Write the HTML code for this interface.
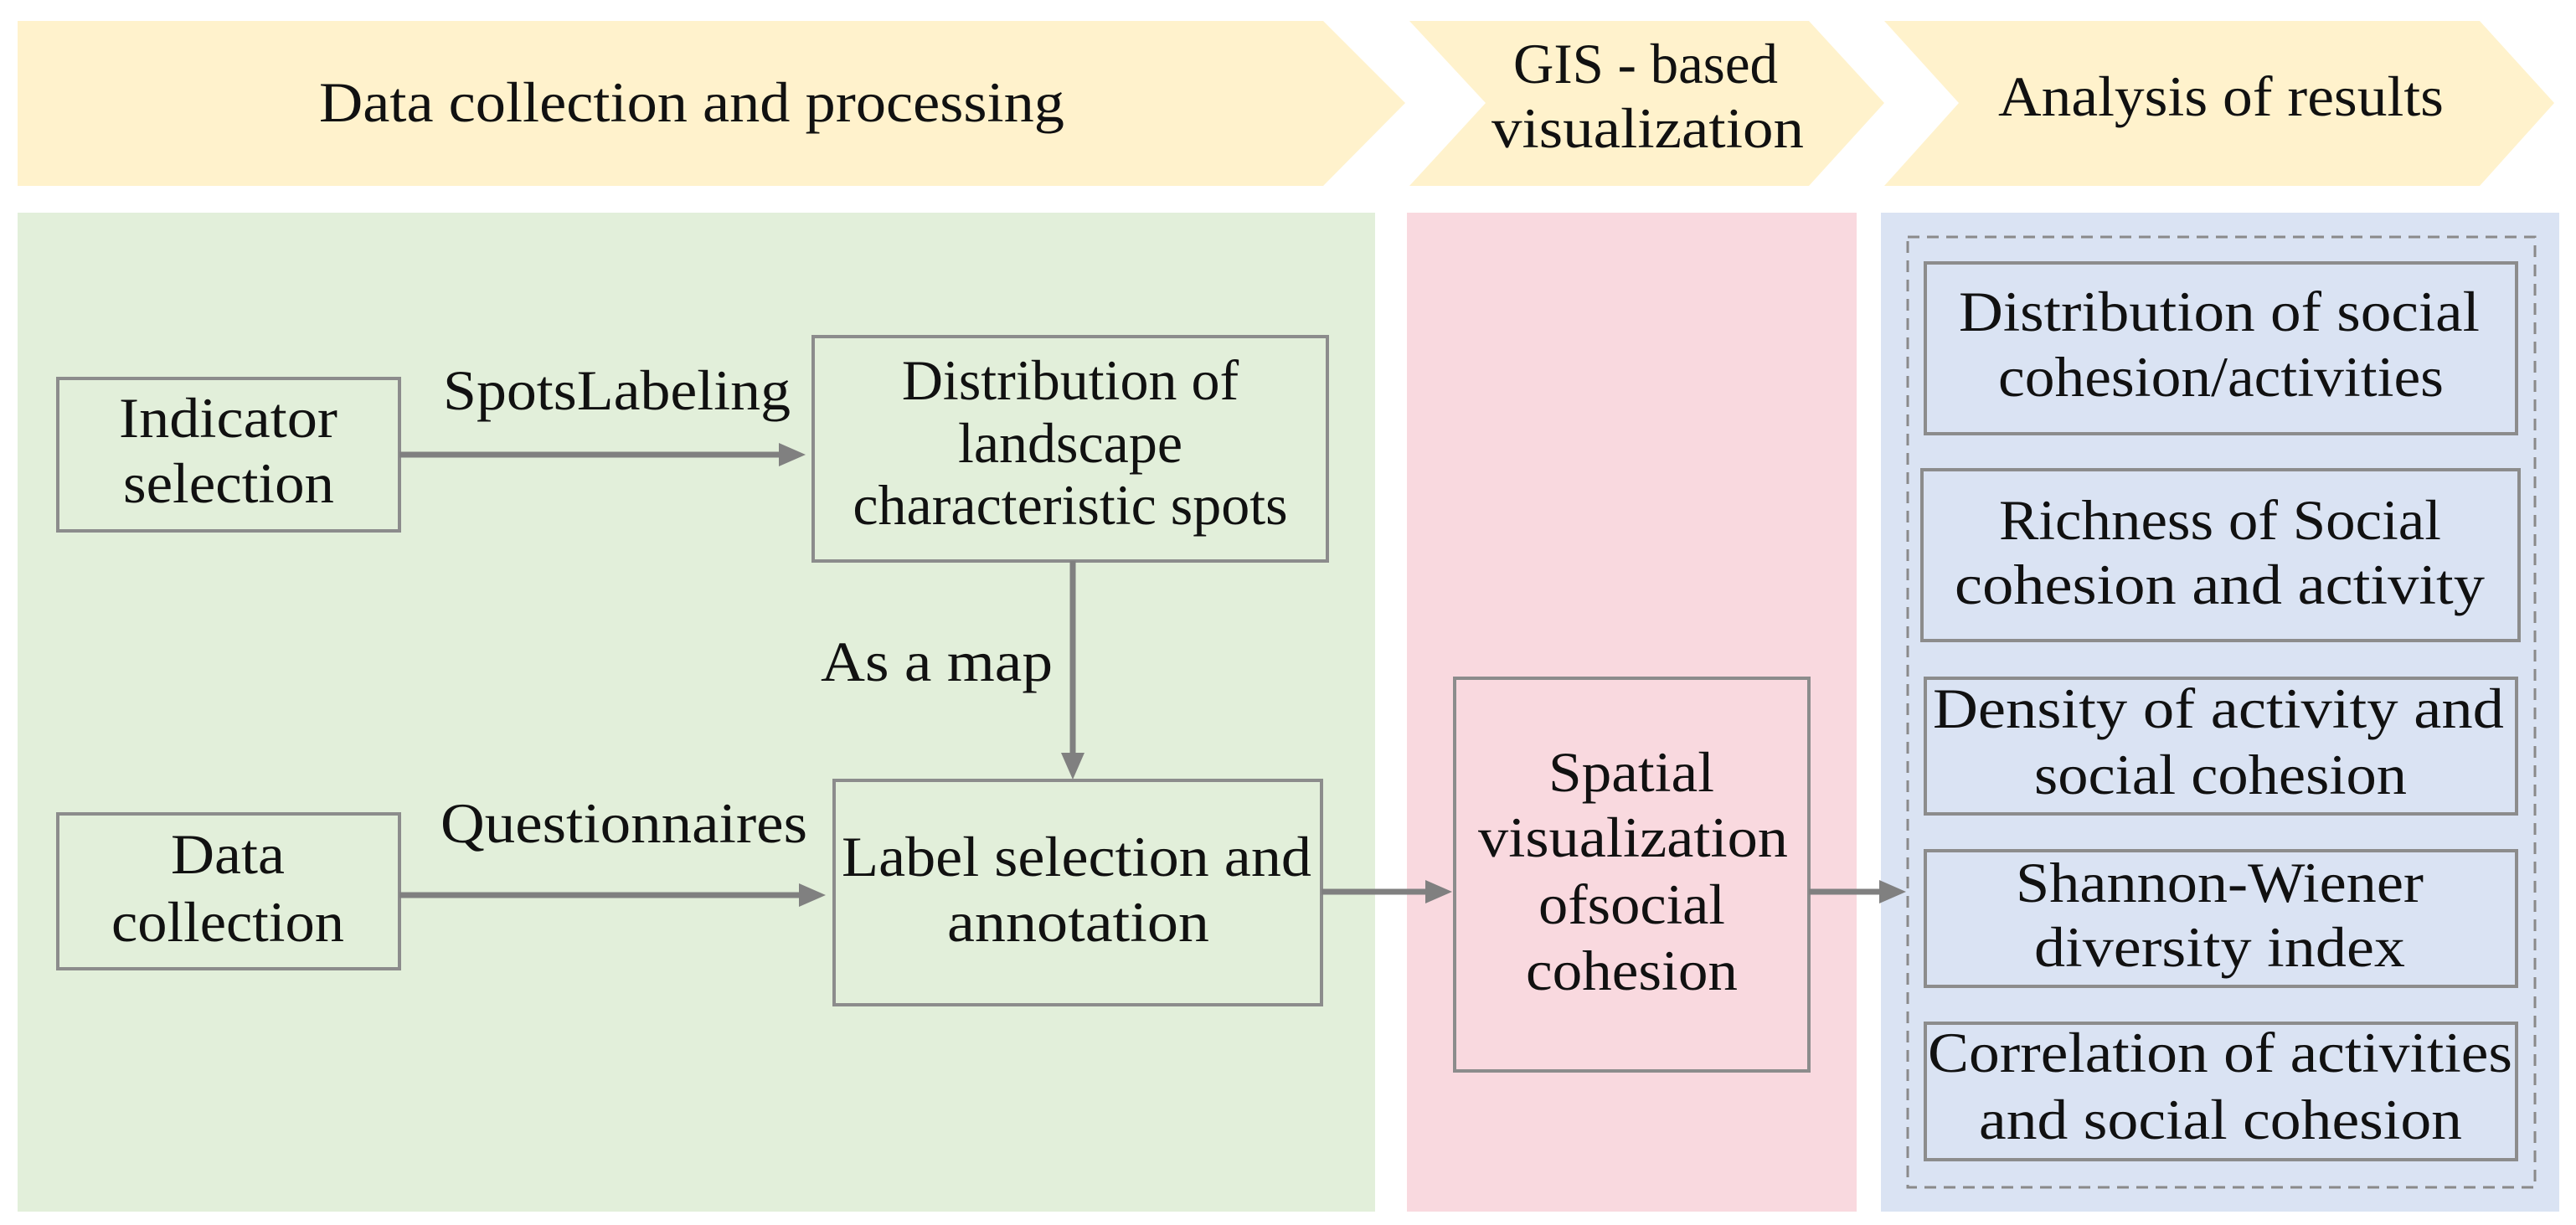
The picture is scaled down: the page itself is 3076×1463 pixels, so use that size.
<!DOCTYPE html>
<html><head><meta charset="utf-8"><style>
html,body{margin:0;padding:0;background:#fff;}
svg{display:block;}
text{font-family:"Liberation Serif",serif;font-size:68px;fill:#111;}
</style></head><body>
<svg width="3076" height="1463" viewBox="0 0 3076 1463" xmlns="http://www.w3.org/2000/svg">
<!-- headers -->
<polygon points="21,25 1580,25 1678,123 1580,222 21,222" fill="#fff2cc"/>
<polygon points="1683,25 2160,25 2250,123 2160,222 1683,222 1774,123" fill="#fff2cc"/>
<polygon points="2250,25 2961,25 3050,123 2961,222 2250,222 2339,123" fill="#fff2cc"/>
<text x="381" y="145" textLength="890" lengthAdjust="spacingAndGlyphs">Data collection and processing</text>
<text x="1807" y="99" textLength="316" lengthAdjust="spacingAndGlyphs">GIS - based</text>
<text x="1781" y="176" textLength="373" lengthAdjust="spacingAndGlyphs">visualization</text>
<text x="2386" y="138" textLength="532" lengthAdjust="spacingAndGlyphs">Analysis of results</text>
<!-- panels -->
<rect x="21" y="254" width="1621" height="1193" fill="#e2efda"/>
<rect x="1680" y="254" width="537" height="1193" fill="#f9d9df"/>
<rect x="2246" y="254" width="810" height="1193" fill="#dae3f3"/>
<rect x="2278" y="283" width="749" height="1135" fill="none" stroke="#8a8a8a" stroke-width="3" stroke-dasharray="14,9"/>
<!-- boxes -->
<g fill="none" stroke="#8c8c8c" stroke-width="4">
<rect x="69" y="452" width="408" height="182"/>
<rect x="971" y="402" width="614" height="268"/>
<rect x="69" y="972" width="408" height="185"/>
<rect x="996" y="932" width="582" height="268"/>
<rect x="1737" y="810" width="423" height="469"/>
<rect x="2299" y="314" width="706" height="204"/>
<rect x="2295" y="561" width="713" height="204"/>
<rect x="2299" y="810" width="706" height="162"/>
<rect x="2299" y="1016" width="706" height="162"/>
<rect x="2299" y="1222" width="706" height="163"/>
</g>
<!-- arrows -->
<g stroke="#808080" stroke-width="7" fill="none">
<line x1="477" y1="543" x2="935" y2="543"/>
<line x1="1281" y1="670" x2="1281" y2="905"/>
<line x1="477" y1="1069" x2="962" y2="1069"/>
<line x1="1578" y1="1065" x2="1708" y2="1065"/>
<line x1="2160" y1="1065" x2="2250" y2="1065"/>
</g>
<g fill="#808080">
<polygon points="962,543 930,529 930,557"/>
<polygon points="1281,931 1267,899 1295,899"/>
<polygon points="986,1069 954,1055 954,1083"/>
<polygon points="1734,1065 1702,1051 1702,1079"/>
<polygon points="2276,1065 2244,1051 2244,1079"/>
</g>
<!-- labels -->
<text x="529" y="489" textLength="415" lengthAdjust="spacingAndGlyphs">SpotsLabeling</text>
<text x="980" y="813" textLength="277" lengthAdjust="spacingAndGlyphs">As a map</text>
<text x="526" y="1006" textLength="438" lengthAdjust="spacingAndGlyphs">Questionnaires</text>
<text x="142" y="522" textLength="261" lengthAdjust="spacingAndGlyphs">Indicator</text>
<text x="147" y="600" textLength="252" lengthAdjust="spacingAndGlyphs">selection</text>
<g text-anchor="middle">
<text x="1278" y="477">Distribution of</text>
<text x="1278" y="552">landscape</text>
<text x="1278" y="626">characteristic spots</text>
</g>
<text x="204" y="1043" textLength="136" lengthAdjust="spacingAndGlyphs">Data</text>
<text x="133" y="1124" textLength="278" lengthAdjust="spacingAndGlyphs">collection</text>
<text x="1005" y="1046" textLength="561" lengthAdjust="spacingAndGlyphs">Label selection and</text>
<text x="1131" y="1124" textLength="313" lengthAdjust="spacingAndGlyphs">annotation</text>
<text x="1849" y="945" textLength="198" lengthAdjust="spacingAndGlyphs">Spatial</text>
<text x="1765" y="1023" textLength="370" lengthAdjust="spacingAndGlyphs">visualization</text>
<text x="1837" y="1103" textLength="223" lengthAdjust="spacingAndGlyphs">ofsocial</text>
<text x="1822" y="1182" textLength="253" lengthAdjust="spacingAndGlyphs">cohesion</text>
<text x="2339" y="395" textLength="622" lengthAdjust="spacingAndGlyphs">Distribution of social</text>
<text x="2386" y="473" textLength="532" lengthAdjust="spacingAndGlyphs">cohesion/activities</text>
<text x="2387" y="644" textLength="528" lengthAdjust="spacingAndGlyphs">Richness of Social</text>
<text x="2334" y="721" textLength="633" lengthAdjust="spacingAndGlyphs">cohesion and activity</text>
<text x="2308" y="869" textLength="682" lengthAdjust="spacingAndGlyphs">Density of activity and</text>
<text x="2429" y="948" textLength="445" lengthAdjust="spacingAndGlyphs">social cohesion</text>
<text x="2407" y="1077" textLength="487" lengthAdjust="spacingAndGlyphs">Shannon-Wiener</text>
<text x="2429" y="1154" textLength="443" lengthAdjust="spacingAndGlyphs">diversity index</text>
<text x="2302" y="1280" textLength="698" lengthAdjust="spacingAndGlyphs">Correlation of activities</text>
<text x="2363" y="1360" textLength="577" lengthAdjust="spacingAndGlyphs">and social cohesion</text>
</svg>
</body></html>
